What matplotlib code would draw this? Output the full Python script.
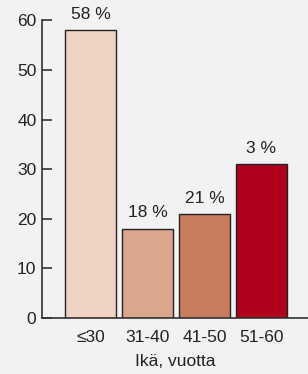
import matplotlib
matplotlib.use('Agg')
import matplotlib.pyplot as plt

plt.rcParams['font.family'] = ['Liberation Sans', 'DejaVu Sans']

# data
ages = ['≤30', '31-40', '41-50', '51-60']
values = [58, 18, 21, 31]
labels = ['58 %', '18 %', '21 %', '3 %']
colors = ['#efd4c4', '#daa78d', '#c97c5e', '#b0001e']

W, H = 308, 374
fs = 12.5
fig = plt.figure(figsize=(W / 100, H / 100), dpi=100, facecolor='#f2f2f2')
ax = fig.add_axes([42 / W, (H - 318) / H, 1 - 42 / W, (318 - 20.4) / H])
ax.set_facecolor('#f2f2f2')

x = list(range(len(ages)))
ax.bar(x, values, width=0.895, color=colors, edgecolor='#222222', linewidth=1.0)

for xi, v, lab in zip(x, values, labels):
    ax.annotate(lab, (xi, v), xytext=(0, 6), textcoords='offset points',
                ha='center', va='bottom', fontsize=fs, color='#222222')

ax.set_xlim(-0.85, 3.816)
ax.set_ylim(0, 60)
ax.set_yticks([0, 10, 20, 30, 40, 50, 60])
ax.set_xticks(x)
ax.set_xticklabels(ages)
ax.tick_params(axis='y', direction='in', length=7, width=1.2, color='#333333',
               labelsize=fs, labelcolor='#222222', pad=4)
ax.tick_params(axis='x', length=0, labelsize=fs, labelcolor='#222222', pad=9)
ax.set_xlabel('Ikä, vuotta', fontsize=fs, color='#222222', labelpad=6)

for s in ['top', 'right']:
    ax.spines[s].set_visible(False)
ax.spines['left'].set_color('#333333')
ax.spines['left'].set_linewidth(1.2)
ax.spines['bottom'].set_color('#333333')
ax.spines['bottom'].set_linewidth(1.2)

fig.savefig('out.png', dpi=100, facecolor='#f2f2f2')
